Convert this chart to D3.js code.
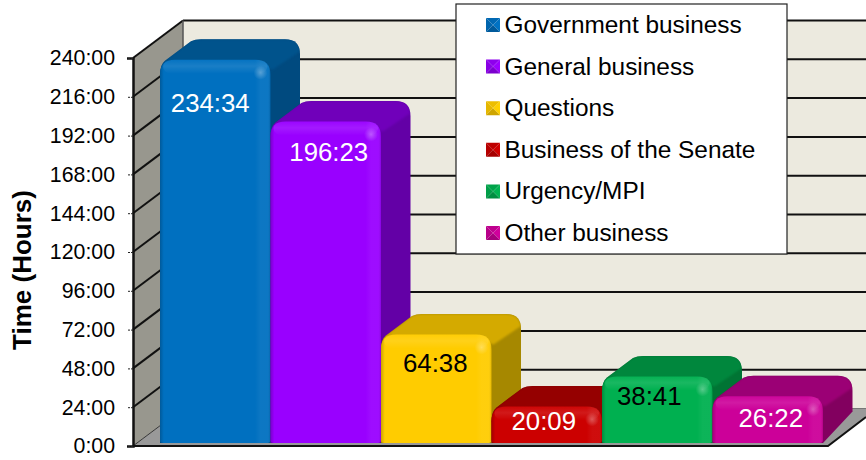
<!DOCTYPE html>
<html><head><meta charset="utf-8">
<script src="https://cdn.jsdelivr.net/npm/d3@7"></script>
<style>html,body{margin:0;padding:0;background:#fff}svg{display:block}text{font-family:"Liberation Sans",Arial,sans-serif}</style>
</head><body><div id="chart"></div>
<script>
const categories = ["Government business","General business","Questions","Business of the Senate","Urgency/MPI","Other business"];
const durations = ["234:34","196:23","64:38","20:09","38:41","26:22"];
const frontColors = ["#0070C0","#9900FF","#FFCC00","#CC0000","#00B050","#CC0099"];
const topColors = ["#00528C","#7000BA","#D4AA00","#950000","#00873D","#9B0075"];
const sideColors = ["#004A7F","#6300A6","#A68800","#800000","#007434","#82005F"];
const labelColors = ["#fff","#fff","#000","#fff","#000","#fff"];
const tickHours = [0,24,48,72,96,120,144,168,192,216,240];

// layout constants
const W = 866, H = 460, X0 = 133, DX = 50, DY = 37.5, R = 15, BDX = 29.5, BDY = 20.5;
const labelNudgeX = [-5,3,-1,-3,-8,3], labelNudgeY = [43,30,28,14,19,21];
const hours = s => { const [h,m] = s.split(":").map(Number); return h + m/60; };

const y = d3.scaleLinear().domain([0,240]).range([446,58]);
const x = d3.scaleBand().domain(categories).range([160,823]);
const legendY = d3.scalePoint().domain(categories).range([24.5,232.5]);
const barLift = 7, barFoot = 443;

const svg = d3.select("#chart").append("svg").attr("width",W).attr("height",H);
const defs = svg.append("defs");
const line = d3.line();

// walls and floor
svg.append("path").attr("d", line([[X0,y(240)],[X0+DX,y(240)-DY],[X0+DX,y(0)-DY],[X0,y(0)]])+"Z").attr("fill","#98978E");
svg.append("rect").attr("x",X0+DX).attr("y",y(240)-DY).attr("width",W-X0-DX).attr("height",y(0)-y(240)).attr("fill","#ECEADF");
svg.append("path").attr("d", line([[X0,y(0)],[828,y(0)],[W,y(0)-29],[W,y(0)-DY],[X0+DX,y(0)-DY]])+"Z").attr("fill","#999");

// gridlines
const grid = svg.append("g").attr("fill","none").attr("stroke","#111").attr("stroke-width",2);
grid.selectAll(".b").data(tickHours.filter(d=>d>0)).join("line").attr("class","b")
  .attr("x1",X0+DX).attr("x2",W).attr("y1",d=>y(d)-DY).attr("y2",d=>y(d)-DY);
grid.selectAll(".s").data(tickHours.filter(d=>d>0)).join("line").attr("class","s")
  .attr("x1",X0).attr("x2",X0+DX).attr("y1",d=>y(d)).attr("y2",d=>y(d)-DY);
svg.append("line").attr("x1",X0+DX).attr("x2",W).attr("y1",y(0)-DY).attr("y2",y(0)-DY).attr("stroke","#777").attr("stroke-width",1);
svg.append("line").attr("x1",X0+DX).attr("x2",X0+DX).attr("y1",y(240)-DY).attr("y2",y(0)-DY).attr("stroke","#555").attr("stroke-width",1.5);
svg.append("line").attr("x1",X0).attr("x2",X0+DX).attr("y1",y(0)).attr("y2",y(0)-DY).attr("stroke","#333").attr("stroke-width",1);
svg.append("path").attr("d",line([[X0,y(0)],[828,y(0)],[W,y(0)-29]])).attr("fill","none").attr("stroke","#111").attr("stroke-width",2);

// bevel gradients
const hg = defs.append("linearGradient").attr("id","hbevel");
[[0,"#000",.2],[.035,"#000",0],[.86,"#fff",0],[.91,"#fff",.05],[.975,"#fff",.05],[1,"#000",.12]].forEach(s=>
  hg.append("stop").attr("offset",s[0]).attr("stop-color",s[1]).attr("stop-opacity",s[2]));
const vg = defs.append("linearGradient").attr("id","vbevel").attr("x1",0).attr("x2",0).attr("y1",0).attr("y2",1);
[[0,"#fff",.02],[.45,"#fff",.1],[1,"#fff",0]].forEach(s=>
  vg.append("stop").attr("offset",s[0]).attr("stop-color",s[1]).attr("stop-opacity",s[2]));
const rg = defs.append("radialGradient").attr("id","spec");
rg.append("stop").attr("offset",0).attr("stop-color","#fff").attr("stop-opacity",.3);
rg.append("stop").attr("offset",1).attr("stop-color","#fff").attr("stop-opacity",0);
const soft = defs.append("filter").attr("id","soft").attr("x","-10%").attr("y","-20%").attr("width","120%").attr("height","140%");
soft.append("feGaussianBlur").attr("stdDeviation",1.2);

// bars
const bars = svg.append("g").selectAll("g").data(categories).join("g");
bars.each(function(c,i){
  const g = d3.select(this), a = x(c), b = a + x.bandwidth(), t = y(hours(durations[i])) - barLift, f = barFoot;
  const crown = `M${a},${t+R}Q${a},${t+5} ${a+5},${t+1}L${a+31},${t-BDY+2}Q${a+35},${t-BDY} ${a+41},${t-BDY}`+
    `L${b+BDX-15},${t-BDY}Q${b+BDX},${t-BDY} ${b+BDX},${t-BDY+15}`;
  const sil = crown + `L${b+BDX},${f-BDY-11}L${b},${f}L${a},${f}Z`;
  const cid = "sil"+i;
  defs.append("clipPath").attr("id",cid).append("path").attr("d",sil);
  g.append("path").attr("d",sil).attr("fill",sideColors[i]);
  const top = crown + `L${b+BDX},${t-BDY+12}L${b+2},${t+10}L${b-R},${t+4}L${a},${t+R}Z`;
  g.append("g").attr("clip-path",`url(#${cid})`).append("path").attr("d",top).attr("fill",topColors[i]).attr("filter","url(#soft)");
  const front = `M${a+3},${f}Q${a},${f} ${a},${f-3}L${a},${t+R}Q${a},${t} ${a+R},${t}L${b-R},${t}Q${b},${t} ${b},${t+R}L${b},${f-3}Q${b},${f} ${b-3},${f}Z`;
  g.append("path").attr("d",front).attr("fill",frontColors[i]);
  g.append("path").attr("d",front).attr("fill","url(#hbevel)");
  g.append("rect").attr("x",a+3).attr("y",t).attr("width",b-a-6).attr("height",14).attr("rx",9).attr("fill","url(#vbevel)");
  g.append("circle").attr("cx",b-10).attr("cy",t+13).attr("r",7).attr("fill","url(#spec)");
  g.append("text").attr("x",(a+b)/2+labelNudgeX[i]).attr("y",t+labelNudgeY[i]).attr("dy","0.36em")
    .attr("text-anchor","middle").attr("font-size",25.8).attr("fill",labelColors[i]).text(durations[i]);
});

// y axis
const axis = svg.append("g").attr("transform",`translate(${X0},0)`)
  .call(d3.axisLeft(y).tickValues(tickHours).tickFormat(d=>d+":00").tickSize(6).tickPadding(12));
axis.select(".domain").attr("stroke","#111").attr("stroke-width",2.5);
axis.selectAll(".tick line").attr("stroke","#222").attr("stroke-dasharray","2,1");
axis.selectAll(".tick text").attr("font-size",21.3).attr("fill","#000").style("font-family",'"Liberation Sans",Arial,sans-serif');
svg.append("text").attr("transform","translate(31,270) rotate(-90)").attr("text-anchor","middle")
  .attr("font-size",26).attr("font-weight","bold").attr("fill","#000").text("Time (Hours)");

// legend
const lg = svg.append("g");
lg.append("rect").attr("x",456).attr("y",4).attr("width",331).attr("height",250).attr("fill","#fff").attr("stroke","#222").attr("stroke-width",1.2);
const items = lg.selectAll("g").data(categories).join("g").attr("transform",c=>`translate(486,${legendY(c)})`);
items.each(function(c,i){
  const g = d3.select(this), s = 7, col = frontColors[i];
  const faces = [
    [[[-s,-s],[s,-s],[0,0]], d3.color(col).darker(.2)],
    [[[-s,-s],[-s,s],[0,0]], d3.color(col).darker(.3)],
    [[[s,-s],[s,s],[0,0]], d3.color(col).brighter(.05)],
    [[[-s,s],[s,s],[0,0]], d3.color(col).darker(.6)]];
  faces.forEach(fc=>g.append("path").attr("transform",`translate(${s},0.5)`).attr("d",line(fc[0])+"Z").attr("fill",fc[1]));
  g.append("text").attr("x",18.5).attr("dy","0.35em").attr("font-size",24.4).attr("fill","#000").text(c);
});
</script></body></html>
